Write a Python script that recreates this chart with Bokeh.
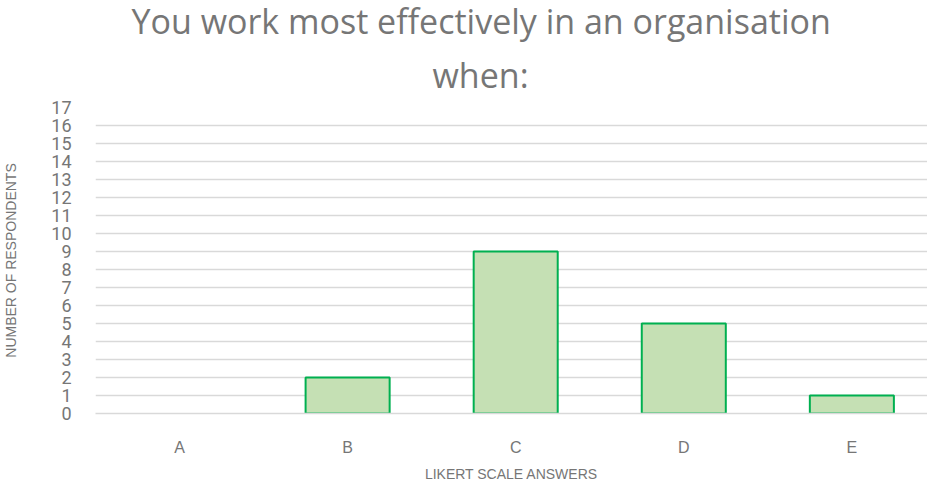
from bokeh.plotting import figure
from bokeh.models import Range1d, FixedTicker, ColumnDataSource, Title
from bokeh.embed import file_html
from bokeh.resources import INLINE

categories = ["A", "B", "C", "D", "E"]
respondents = [0, 2, 9, 5, 1]
y_ticks = list(range(0, 18))
title_lines = ["You work most effectively in an organisation", "when:"]

xpos = list(range(len(categories)))
src = ColumnDataSource(dict(x=xpos, top=respondents,
                            la=[0.0 if v == 0 else 1.0 for v in respondents]))

p = figure(width=920, height=475, output_backend="svg", toolbar_location=None,
           x_range=Range1d(-0.5, 4.45), y_range=Range1d(0, 17),
           frame_width=832, frame_height=306,
           min_border_left=88, min_border_right=0, min_border_bottom=69, min_border_top=99)

def style_title(t, off):
    t.align = "left"
    t.text_font = "Open Sans"
    t.text_font_size = "34px"
    t.text_font_style = "normal"
    t.text_color = "#767676"
    t.offset = off

p.title.text = title_lines[0]
style_title(p.title, 36)
p.title.standoff = -9
t2 = Title(text=title_lines[1])
style_title(t2, 337)
t2.standoff = 20
p.add_layout(t2, "above")

p.vbar(x="x", top="top", width=0.5, bottom=0, source=src,
       fill_color="#c5e0b4", line_color="#00b050", line_alpha="la", line_width=2)

p.outline_line_color = None
p.xgrid.grid_line_color = None
p.ygrid.grid_line_color = "#d9d9d9"
p.ygrid.grid_line_width = 1.5

p.yaxis.ticker = FixedTicker(ticks=y_ticks)
p.yaxis.axis_line_color = None
p.yaxis.major_tick_line_color = None
p.yaxis.minor_tick_line_color = None
p.yaxis.major_label_standoff = 18
p.yaxis.major_label_text_font = "Roboto"
p.yaxis.major_label_text_font_size = "18px"
p.yaxis.major_label_text_color = "#767676"
p.yaxis.axis_label = "NUMBER OF RESPONDENTS"
p.yaxis.axis_label_text_font = "Liberation Sans"
p.yaxis.axis_label_text_font_size = "14px"
p.yaxis.axis_label_text_font_style = "normal"
p.yaxis.axis_label_text_color = "#767676"
p.yaxis.axis_label_standoff = 29

p.xaxis.ticker = FixedTicker(ticks=xpos)
p.xaxis.major_label_overrides = {i: c for i, c in zip(xpos, categories)}
p.xaxis.axis_line_color = "#d9d9d9"
p.xaxis.axis_line_width = 1.5
p.xaxis.major_tick_line_color = None
p.xaxis.minor_tick_line_color = None
p.xaxis.major_label_standoff = 19
p.xaxis.major_label_text_font = "Liberation Sans"
p.xaxis.major_label_text_font_size = "16px"
p.xaxis.major_label_text_color = "#767676"
p.xaxis.axis_label = "LIKERT SCALE ANSWERS"
p.xaxis.axis_label_text_font = "Liberation Sans"
p.xaxis.axis_label_text_font_size = "14px"
p.xaxis.axis_label_text_font_style = "normal"
p.xaxis.axis_label_text_color = "#767676"
p.xaxis.axis_label_standoff = 7

open("out.html", "w").write(file_html(p, INLINE))
